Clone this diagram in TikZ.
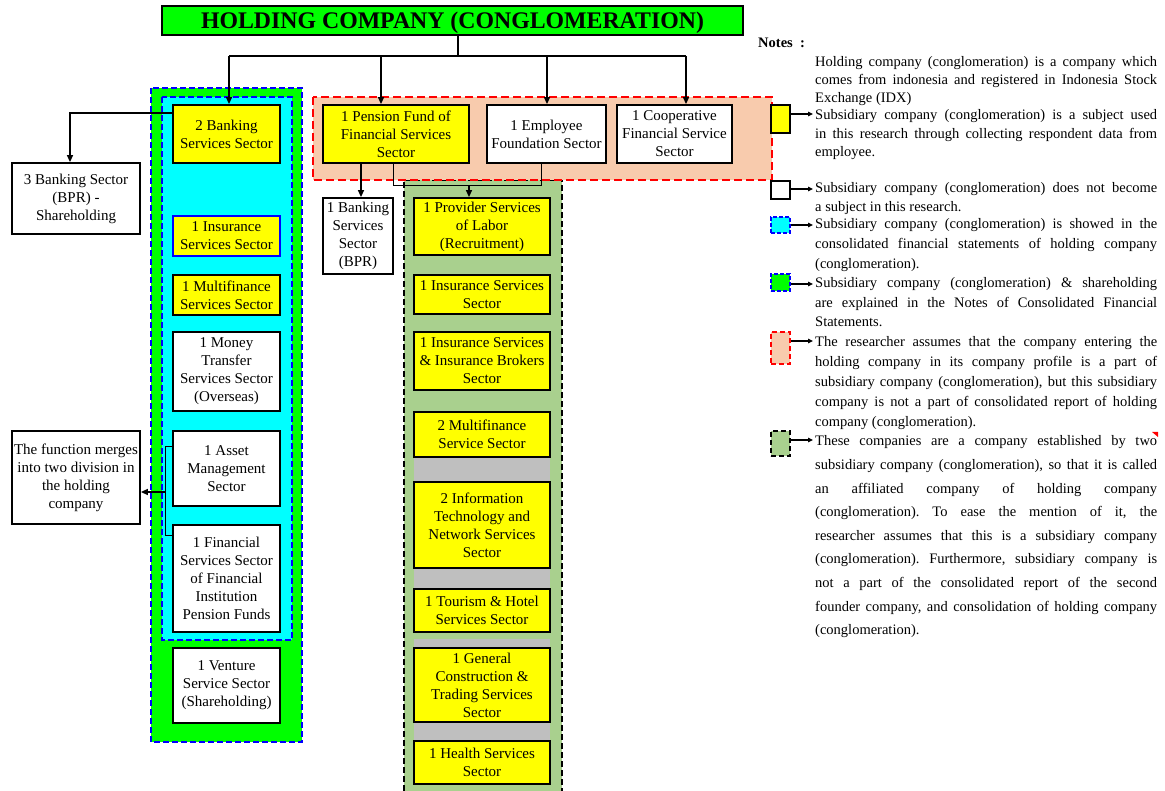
\documentclass[tikz,border=0pt]{standalone}
\usepackage{fontspec}
\setmainfont{Liberation Serif}
\usetikzlibrary{arrows.meta}
\definecolor{cgreen}{HTML}{00FF00}
\definecolor{ccyan}{HTML}{00FFFF}
\definecolor{cyellow}{HTML}{FFFF00}
\definecolor{cpeach}{HTML}{F8CBAD}
\definecolor{colive}{HTML}{A9D08E}
\definecolor{cgray}{HTML}{BFBFBF}
\definecolor{cblue}{HTML}{0000FF}
\definecolor{cred}{HTML}{FF0000}
\frenchspacing
\begin{document}
\begin{tikzpicture}[x=1pt,y=-1pt,
  box/.style={draw,line width=1.8pt,align=center,inner sep=0pt,font=\fontsize{15}{18}\selectfont},
  ybox/.style={box,fill=cyellow},
  wbox/.style={box,fill=white},
  conn/.style={line width=1.4pt},
  thinconn/.style={line width=1pt},
  arr/.style={conn,-{Triangle[length=7pt,width=6pt]}},
  sarr/.style={line width=1.2pt,-{Triangle[length=5pt,width=4.5pt]}},
  bluedash/.style={draw=cblue,line width=1.6pt,dash pattern=on 6pt off 3pt},
  reddash/.style={draw=cred,line width=1.6pt,dash pattern=on 8pt off 4pt},
  blackdash/.style={draw=black,line width=1.6pt,dash pattern=on 6pt off 3pt},
  icon/.style={line width=1.6pt,minimum width=19pt,inner sep=0pt},
  note/.style={text width=342pt,align=justify,inner sep=0pt,anchor=base west}
]
\useasboundingbox (0,0) rectangle (1165,791);

% background groups
\fill[colive] (404,180) rectangle (562,800);
\draw[blackdash] (404,800) -- (404,180) -- (562,180) -- (562,800);
\fill[cgray] (414,457) rectangle (550,482);
\fill[cgray] (414,568) rectangle (550,589);
\fill[cgray] (414,639) rectangle (550,648);
\fill[cgray] (414,722) rectangle (550,741);

\fill[cgreen] (151,88) rectangle (302,742);
\draw[bluedash] (151,88) rectangle (302,742);
\fill[ccyan] (162,97) rectangle (292,640);
\draw[bluedash] (162,97) rectangle (292,640);

\fill[cpeach] (313,97) rectangle (772,180);
\draw[reddash] (313,97) rectangle (772,180);

% title
\node[draw,line width=1.8pt,fill=cgreen,minimum width=581pt,minimum height=29pt,inner sep=0pt,
  text height=17pt,text depth=1pt,
  font=\fontsize{23.8}{26}\selectfont\bfseries] (title) at (452.5,20.5) {HOLDING COMPANY (CONGLOMERATION)};

% left column
\node[ybox,minimum width=107pt,minimum height=58pt] (bank2) at (226.5,134) {2 Banking\\Services Sector};
\node[ybox,draw=cblue,minimum width=107pt,minimum height=40pt] (ins1) at (226.5,236) {1 Insurance\\Services Sector};
\node[ybox,minimum width=107pt,minimum height=40pt] (multi1) at (226.5,295) {1 Multifinance\\Services Sector};
\node[wbox,minimum width=107pt,minimum height=79pt] (money) at (226.5,371.5) {1 Money\\Transfer\\Services Sector\\(Overseas)};
\node[wbox,minimum width=107pt,minimum height=75pt] (asset) at (226.5,468.5) {1 Asset\\Management\\Sector};
\node[wbox,minimum width=107pt,minimum height=107pt] (finpen) at (226.5,578.5) {1 Financial\\Services Sector\\of Financial\\Institution\\Pension Funds};
\node[wbox,minimum width=107pt,minimum height=75pt] (venture) at (226.5,685.5) {1 Venture\\Service Sector\\(Shareholding)};

\node[wbox,minimum width=128pt,minimum height=71pt] (bpr3) at (76,198.5) {3 Banking Sector\\(BPR) -\\Shareholding};
\node[wbox,minimum width=128pt,minimum height=93pt] (merge) at (76,477.5) {The function merges\\into two division in\\the holding\\company};

% top row
\node[ybox,minimum width=146pt,minimum height=58pt] (pension) at (396,134) {1 Pension Fund of\\Financial Services\\Sector};
\node[wbox,minimum width=119pt,minimum height=58pt] (employee) at (546.5,134) {1 Employee\\Foundation Sector};
\node[wbox,minimum width=115pt,minimum height=58pt] (coop) at (674.5,134) {1 Cooperative\\Financial Service\\Sector};
\node[wbox,minimum width=70pt,minimum height=76pt] (bpr1) at (358,236) {1 Banking\\Services\\Sector\\(BPR)};

% middle column
\node[ybox,minimum width=136pt,minimum height=57pt] (provider) at (482,226.5) {1 Provider Services\\of Labor\\(Recruitment)};
\node[ybox,minimum width=136pt,minimum height=39pt] (ins1b) at (482,294.5) {1 Insurance Services\\Sector};
\node[ybox,minimum width=136pt,minimum height=58pt] (insbrok) at (482,361) {1 Insurance Services\\\& Insurance Brokers\\Sector};
\node[ybox,minimum width=136pt,minimum height=45pt] (multi2) at (482,434.5) {2 Multifinance\\Service Sector};
\node[ybox,minimum width=136pt,minimum height=86pt] (infotech) at (482,525) {2 Information\\Technology and\\Network Services\\Sector};
\node[ybox,minimum width=136pt,minimum height=43pt] (tourism) at (482,610.5) {1 Tourism \& Hotel\\Services Sector};
\node[ybox,minimum width=136pt,minimum height=74pt] (constr) at (482,685) {1 General\\Construction \&\\Trading Services\\Sector};
\node[ybox,minimum width=136pt,minimum height=43pt] (health) at (482,762.5) {1 Health Services\\Sector};

% connectors
\coordinate (hub) at (458,56);
\coordinate (hl) at (229,56);
\coordinate (hp) at (381,56);
\coordinate (he) at (547,56);
\coordinate (hc) at (686,56);
\draw[conn] (title.south -| hub) -- (hub);
\draw[conn] (hl) -- (hc);
\draw[arr] (hl) -- (hl |- bank2.north);
\draw[arr] (hp) -- (hp |- pension.north);
\draw[arr] (he) -- (he |- employee.north);
\draw[arr] (hc) -- (hc |- coop.north);

\coordinate (lb) at (70,113);
\draw[arr] (lb -| bank2.west) -- (lb) -- (lb |- bpr3.north);

\coordinate (bt) at (165,447);
\coordinate (bb) at (165,535);
\coordinate (bm) at (165,492);
\draw[thinconn] (bt -| asset.west) -- (bt) -- (bb) -- (bb -| finpen.west);
\draw[arr] (bm) -- (bm -| merge.east);

\coordinate (pb) at (361,180);
\draw[arr] (pb |- pension.south) -- (pb |- bpr1.north);

\coordinate (j1) at (393,186);
\coordinate (j2) at (541,186);
\coordinate (j3) at (469,186);
\draw[thinconn] (j1 |- pension.south) -- (j1) -- (j2) -- (j2 |- employee.south);
\draw[arr] (j3) -- (j3 |- provider.north);

% notes
\node[anchor=base west,inner sep=0pt,font=\fontsize{14.5}{18}\selectfont\bfseries] (notes) at (758,48) {Notes\ \ :};

\node[icon,draw,fill=cyellow,minimum height=28pt] (iy) at (780.5,119) {};
\node[icon,draw,fill=white,minimum height=18pt] (iw) at (780.5,190) {};
\node[icon,draw=cblue,dash pattern=on 4pt off 2pt,fill=ccyan,minimum height=16pt] (ic) at (780.5,225) {};
\node[icon,draw=cblue,dash pattern=on 4pt off 2pt,fill=cgreen,minimum height=17pt] (ig) at (780.5,282.5) {};
\node[icon,draw=cred,dash pattern=on 5pt off 3pt,fill=cpeach,minimum height=32pt] (ip) at (780.5,348) {};
\node[icon,draw=black,dash pattern=on 5pt off 3pt,fill=colive,minimum height=25pt] (io) at (780.5,443.5) {};

\coordinate (ly) at (813,114);
\coordinate (lw) at (813,189);
\coordinate (lc) at (813,225);
\coordinate (lg) at (813,284);
\coordinate (lp) at (813,341);
\coordinate (lo) at (813,440);
\draw[sarr] (ly -| iy.east) -- (ly);
\draw[sarr] (lw -| iw.east) -- (lw);
\draw[sarr] (lc -| ic.east) -- (lc);
\draw[sarr] (lg -| ig.east) -- (lg);
\draw[sarr] (lp -| ip.east) -- (lp);
\draw[sarr] (lo -| io.east) -- (lo);

\node[note,font=\fontsize{14.5}{18}\selectfont] (n1) at (815,67) {Holding company (conglomeration) is a company which\linebreak comes from indonesia and registered in Indonesia Stock\linebreak Exchange (IDX)};
\node[note,font=\fontsize{14.5}{18.5}\selectfont] (n2) at (815,120) {Subsidiary company (conglomeration) is a subject used\linebreak in this research through collecting respondent data from\linebreak employee.};
\node[note,font=\fontsize{14.5}{19}\selectfont] (n3) at (815,193) {Subsidiary company (conglomeration) does not become\linebreak a subject in this research.};
\node[note,font=\fontsize{14.5}{20}\selectfont] (n4) at (815,229) {Subsidiary company (conglomeration) is showed in the\linebreak consolidated financial statements of holding company\linebreak (conglomeration).};
\node[note,font=\fontsize{14.5}{19.5}\selectfont] (n5) at (815,288) {Subsidiary company (conglomeration) \& shareholding\linebreak are explained in the Notes of Consolidated Financial\linebreak Statements.};
\node[note,font=\fontsize{14.5}{20}\selectfont] (n6) at (815,347) {The researcher assumes that the company entering the\linebreak holding company in its company profile is a part of\linebreak subsidiary company (conglomeration), but this subsidiary\linebreak company is not a part of consolidated report of holding\linebreak company (conglomeration).};
\node[note,font=\fontsize{14.5}{23.6}\selectfont] (n7) at (815,446) {These companies are a company established by two\linebreak subsidiary company (conglomeration), so that it is called\linebreak an affiliated company of holding company\linebreak (conglomeration). To ease the mention of it, the\linebreak researcher assumes that this is a subsidiary company\linebreak (conglomeration). Furthermore, subsidiary company is\linebreak not a part of the consolidated report of the second\linebreak founder company, and consolidation of holding company\linebreak (conglomeration).};

\fill[cred] (1152,432) -- (1158,432) -- (1158,437) -- cycle;
\end{tikzpicture}
\end{document}
